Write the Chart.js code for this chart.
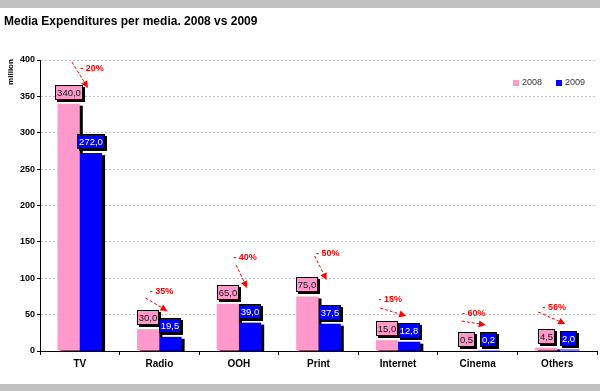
<!DOCTYPE html>
<html>
<head>
<meta charset="utf-8">
<script src="https://cdn.jsdelivr.net/npm/chart.js@4"></script>
<style>
  html, body { margin: 0; padding: 0; background: #fff; }
  canvas { display: block; }
</style>
</head>
<body>
<canvas id="mediaChart" width="600" height="391"></canvas>
<script>
const categories = ['TV', 'Radio', 'OOH', 'Print', 'Internet', 'Cinema', 'Others'];
const spend2008 = [340, 30, 65, 75, 15, 0.5, 4.5];
const spend2009 = [272, 19.5, 39, 37.5, 12.8, 0.2, 2.0];
const changeLabels = ['- 20%', '- 35%', '- 40%', '- 50%', '- 15%', '- 60%', '- 56%'];
const yMin = 0, yMax = 400, yStep = 50;

const PINK = '#ff99cc';
const BLUE = '#0000ff';
const FONT = '"Liberation Sans", Arial, sans-serif';

// where each callout arrow starts and where its text sits, relative to the arrow tip
const arrowLayout = [
    [-16, -26, 4, -19],
    [-22, -13, -6, -19],
    [-11, -23, -2, -30],
    [-12, -24, 1, -26],
    [-26, -8, -16, -16],
    [-24, -4, -12, -11],
    [-27, -12, -11, -16]
];

const fmt = v => v.toFixed(1).replace('.', ',');

function labelBox(ctx, cx, bottom, text, fill, color) {
    ctx.font = '9.5px ' + FONT;
    const w = Math.round(ctx.measureText(text).width + 4);
    const h = 15;
    const x = Math.round(cx - w / 2), y = Math.round(bottom - h);
    ctx.fillStyle = '#000';
    ctx.fillRect(x + 2, y + 2, w, h);
    ctx.fillStyle = fill;
    ctx.fillRect(x, y, w, h);
    ctx.strokeStyle = '#000';
    ctx.lineWidth = 1;
    ctx.strokeRect(x + 0.5, y + 0.5, w - 1, h - 1);
    ctx.fillStyle = color;
    ctx.textAlign = 'center';
    ctx.textBaseline = 'middle';
    ctx.fillText(text, x + w / 2, y + h / 2 + 0.5);
    return y;
}

function arrow(ctx, sx, sy, ex, ey) {
    ctx.save();
    ctx.strokeStyle = '#ff0000';
    ctx.fillStyle = '#ff0000';
    ctx.lineWidth = 1;
    ctx.setLineDash([3, 2]);
    const a = Math.atan2(ey - sy, ex - sx);
    const len = 7;
    ctx.beginPath();
    ctx.moveTo(sx, sy);
    ctx.lineTo(ex - len * Math.cos(a), ey - len * Math.sin(a));
    ctx.stroke();
    ctx.setLineDash([]);
    ctx.beginPath();
    ctx.moveTo(ex, ey);
    ctx.lineTo(ex - len * Math.cos(a) + 3.5 * Math.sin(a), ey - len * Math.sin(a) - 3.5 * Math.cos(a));
    ctx.lineTo(ex - len * Math.cos(a) - 3.5 * Math.sin(a), ey - len * Math.sin(a) + 3.5 * Math.cos(a));
    ctx.closePath();
    ctx.fill();
    ctx.restore();
}

const decor = {
    id: 'decor',
    beforeDraw(chart) {
        const ctx = chart.ctx;
        ctx.save();
        ctx.fillStyle = '#fff';
        ctx.fillRect(0, 0, chart.width, chart.height);
        ctx.fillStyle = '#c0c0c0';
        ctx.fillRect(0, 0, chart.width, 8);
        ctx.fillRect(0, 384, chart.width, chart.height - 384);
        ctx.restore();
    },
    beforeDatasetsDraw(chart) {
        // black drop shadow behind every bar
        const ctx = chart.ctx;
        const area = chart.chartArea;
        ctx.save();
        ctx.beginPath();
        ctx.rect(area.left, area.top, area.right - area.left, area.bottom - area.top);
        ctx.clip();
        ctx.fillStyle = '#000';
        chart.data.datasets.forEach((ds, d) => {
            chart.getDatasetMeta(d).data.forEach(bar => {
                const p = bar.getProps(['x', 'y', 'base', 'width'], true);
                ctx.fillRect(p.x - p.width / 2 + 3, p.y + 2, p.width, p.base - p.y);
            });
        });
        ctx.restore();
    },
    afterDatasetsDraw(chart) {
        const ctx = chart.ctx;
        const pinkBars = chart.getDatasetMeta(0).data;
        const blueBars = chart.getDatasetMeta(1).data;
        ctx.save();
        categories.forEach((c, i) => {
            const p = pinkBars[i], b = blueBars[i];
            const pinkTop = labelBox(ctx, p.x, p.y - 4, fmt(spend2008[i]), PINK, '#111');
            const blueTop = labelBox(ctx, b.x, b.y - 4, fmt(spend2009[i]), BLUE, '#fff');
            const ex = b.x - 3;
            const ey = Math.min(blueTop - 7, pinkTop + 3);
            const L = arrowLayout[i];
            arrow(ctx, ex + L[0], ey + L[1], ex, ey);
            ctx.fillStyle = '#ff0000';
            ctx.font = 'bold 9px ' + FONT;
            ctx.textAlign = 'center';
            ctx.textBaseline = 'middle';
            ctx.fillText(changeLabels[i], ex + L[2], ey + L[3]);
        });
        ctx.restore();
    },
    afterDraw(chart) {
        const ctx = chart.ctx;
        const area = chart.chartArea;
        ctx.save();
        // title
        ctx.fillStyle = '#000';
        ctx.font = 'bold 12px ' + FONT;
        ctx.textAlign = 'left';
        ctx.textBaseline = 'middle';
        ctx.fillText('Media Expenditures per media. 2008 vs 2009', 4, 22);
        // unit
        ctx.save();
        ctx.translate(11, 72);
        ctx.rotate(-Math.PI / 2);
        ctx.font = 'bold 8px ' + FONT;
        ctx.textAlign = 'center';
        ctx.fillText('million', 0, 0);
        ctx.restore();
        // legend
        const ly = area.top + 23;
        chart.data.datasets.forEach((ds, i) => {
            const lx = area.right - 84 + i * 43;
            ctx.fillStyle = ds.backgroundColor;
            ctx.fillRect(lx, ly - 3, 6, 6);
            ctx.fillStyle = '#333';
            ctx.font = '9px ' + FONT;
            ctx.textAlign = 'left';
            ctx.fillText(ds.label, lx + 9, ly);
        });
        ctx.restore();
    }
};

new Chart(document.getElementById('mediaChart').getContext('2d'), {
    type: 'bar',
    data: {
        labels: categories,
        datasets: [{
            label: '2008',
            data: spend2008,
            backgroundColor: PINK
        }, {
            label: '2009',
            data: spend2009,
            backgroundColor: BLUE
        }]
    },
    options: {
        responsive: false,
        animation: false,
        devicePixelRatio: 1,
        categoryPercentage: 0.56,
        barPercentage: 1,
        layout: { padding: { top: 60, right: 3, left: 0, bottom: 0 } },
        plugins: {
            legend: { display: false },
            tooltip: { enabled: false }
        },
        scales: {
            x: {
                z: 1,
                afterFit(scale) { scale.height = 40; },
                grid: { drawOnChartArea: false, offset: true, tickLength: 4, tickColor: '#000' },
                border: { color: '#000', width: 1 },
                ticks: { color: '#000', font: { family: FONT, size: 10, weight: 'bold' }, padding: 3 }
            },
            y: {
                min: yMin,
                max: yMax,
                afterFit(scale) { scale.width = 40; },
                grid: { color: '#c4c4c4', tickLength: 3, tickColor: '#000' },
                border: { color: '#000', width: 1, dash: [2, 2] },
                ticks: { stepSize: yStep, color: '#000', font: { family: FONT, size: 9, weight: 'bold' }, padding: 2 }
            }
        }
    },
    plugins: [decor]
});
</script>
</body>
</html>
